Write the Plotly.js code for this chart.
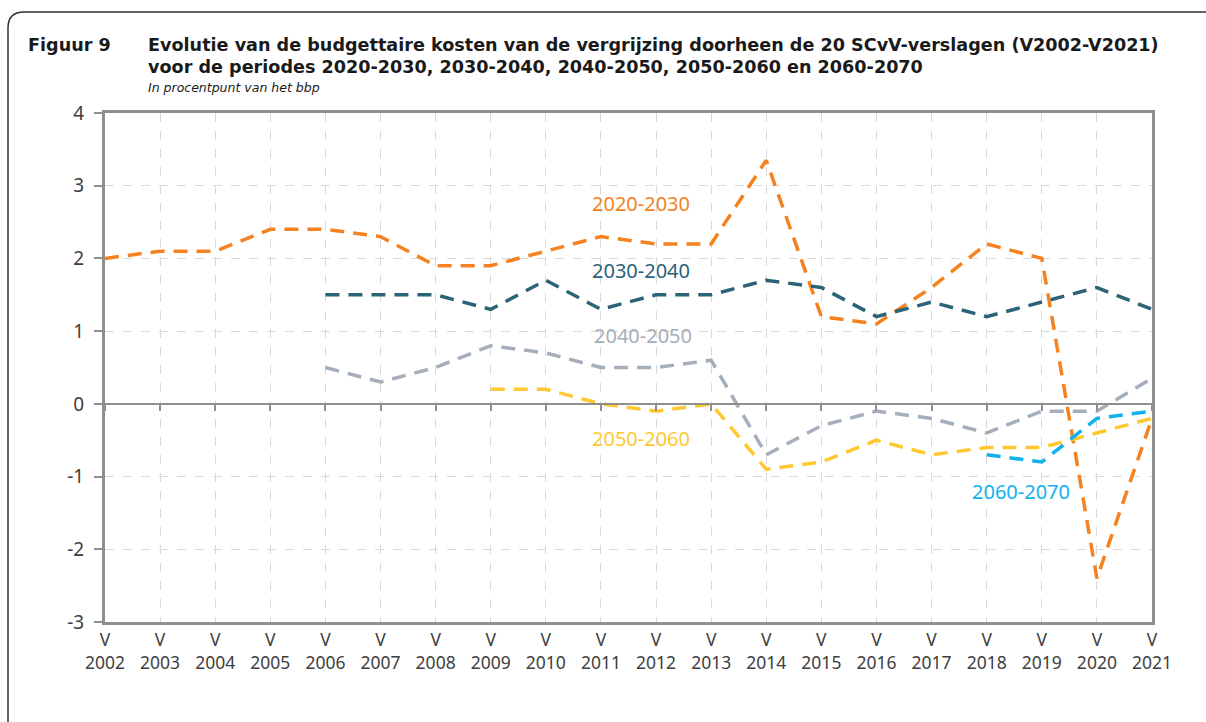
<!DOCTYPE html>
<html>
<head>
<meta charset="utf-8">
<script src="https://cdn.plot.ly/plotly-3.0.1.min.js"></script>
<style>
  html, body { margin: 0; padding: 0; background: #ffffff; }
  #chart { width: 1206px; height: 722px; }
</style>
</head>
<body>
<div id="chart"></div>
<script>
// ---- data ----
const years = [2002, 2003, 2004, 2005, 2006, 2007, 2008, 2009, 2010, 2011,
               2012, 2013, 2014, 2015, 2016, 2017, 2018, 2019, 2020, 2021];
const tickLabels = years.map(y => "V<br>" + y);

const s2020_2030 = [2.0, 2.1, 2.1, 2.4, 2.4, 2.3, 1.9, 1.9, 2.1, 2.3,
                    2.2, 2.2, 3.35, 1.2, 1.1, 1.6, 2.2, 2.0, -2.4, -0.2];
const s2030_2040 = [null, null, null, null, 1.5, 1.5, 1.5, 1.3, 1.7, 1.3,
                    1.5, 1.5, 1.7, 1.6, 1.2, 1.4, 1.2, 1.4, 1.6, 1.3];
const s2040_2050 = [null, null, null, null, 0.5, 0.3, 0.5, 0.8, 0.7, 0.5,
                    0.5, 0.6, -0.7, -0.3, -0.1, -0.2, -0.4, -0.1, -0.1, 0.35];
const s2050_2060 = [null, null, null, null, null, null, null, 0.2, 0.2, 0.0,
                    -0.1, 0.0, -0.9, -0.8, -0.5, -0.7, -0.6, -0.6, -0.4, -0.2];
const s2060_2070 = [null, null, null, null, null, null, null, null, null, null,
                    null, null, null, null, null, null, -0.7, -0.8, -0.2, -0.1];

const seriesNames = ["2020-2030", "2030-2040", "2040-2050", "2050-2060", "2060-2070"];
const seriesColors = ["#F58220", "#2B6377", "#A5AEBB", "#FFC832", "#10B2EE"];
const seriesData = [s2020_2030, s2030_2040, s2040_2050, s2050_2060, s2060_2070];
// label anchor positions (category index, value)
const labelX = [9.73, 9.73, 9.77, 9.73, 16.62];
const labelY = [2.76, 1.83, 0.94, -0.47, -1.21];

const yTicks = [-3, -2, -1, 0, 1, 2, 3, 4];
const yTickText = ["-3", "-2", "-1", "0", "1", "2", "3", "4"];

// ---- layout geometry ----
const W = 1206, H = 722;
const M = {l: 105, r: 54, t: 113, b: 100};
const pw = W - M.l - M.r, ph = H - M.t - M.b;
const px = x => (x - M.l) / pw;
const py = y => (H - M.b - y) / ph;

const FONT = "Noto Sans, DejaVu Sans, sans-serif";
const TFONT = "DejaVu Sans, sans-serif";
const xIdx = years.map((_, i) => i);

const traces = seriesData.map((vals, k) => ({
  type: "scatter",
  mode: "lines",
  x: xIdx,
  y: vals,
  name: seriesNames[k],
  line: {color: seriesColors[k], width: 3.5, dash: "14px,9px"},
  connectgaps: false,
  hoverinfo: "skip",
  showlegend: false
}));

const r = 16;
const fx0 = 8, fy0 = 12;
const framePath = `M ${px(fx0)} ${py(H + 20)} L ${px(fx0)} ${py(fy0 + r)} Q ${px(fx0)} ${py(fy0)} ${px(fx0 + r)} ${py(fy0)} L ${px(W + 20)} ${py(fy0)}`;

const annotations = seriesNames.map((n, k) => ({
  x: labelX[k], y: labelY[k], xref: "x", yref: "y",
  text: n, showarrow: false,
  font: {family: FONT, size: 20, color: seriesColors[k]},
  xanchor: "center", yanchor: "middle"
}));

annotations.push(
  {x: px(26), y: py(45), xref: "paper", yref: "paper", xanchor: "left", yanchor: "middle",
   text: "<b>Figuur 9</b>", showarrow: false, font: {family: TFONT, size: 17.6, color: "#1a1a1a"}},
  {x: px(146), y: py(45), xref: "paper", yref: "paper", xanchor: "left", yanchor: "middle",
   text: "<b>Evolutie van de budgettaire kosten van de vergrijzing doorheen de 20 SCvV-verslagen (V2002-V2021)</b>",
   showarrow: false, font: {family: TFONT, size: 17.6, color: "#1a1a1a"}},
  {x: px(146), y: py(67), xref: "paper", yref: "paper", xanchor: "left", yanchor: "middle",
   text: "<b>voor de periodes 2020-2030, 2030-2040, 2040-2050, 2050-2060 en 2060-2070</b>",
   showarrow: false, font: {family: TFONT, size: 17.6, color: "#1a1a1a"}},
  {x: px(146), y: py(88), xref: "paper", yref: "paper", xanchor: "left", yanchor: "middle",
   text: "<i>In procentpunt van het bbp</i>",
   showarrow: false, font: {family: TFONT, size: 12.5, color: "#1a1a1a"}}
);

const layout = {
  width: W, height: H,
  margin: M,
  paper_bgcolor: "#ffffff",
  plot_bgcolor: "#ffffff",
  font: {family: FONT, color: "#404040"},
  showlegend: false,
  xaxis: {
    type: "linear",
    range: [0, years.length - 1],
    tickvals: xIdx,
    ticktext: tickLabels,
    tickfont: {family: FONT, size: 17.5, color: "#404040"},
    showgrid: true,
    gridcolor: "#d9d9d9",
    griddash: "dash",
    gridwidth: 1,
    showline: true,
    linecolor: "#8f8f8f",
    linewidth: 3,
    mirror: true,
    ticks: "",
    zeroline: false,
    fixedrange: true
  },
  xaxis2: {
    overlaying: "x",
    matches: "x",
    anchor: "free",
    position: 3 / 7,
    tickvals: xIdx,
    showticklabels: false,
    showgrid: false,
    showline: true,
    linecolor: "#8f8f8f",
    linewidth: 2.5,
    ticks: "outside",
    ticklen: 6,
    tickwidth: 2,
    tickcolor: "#8f8f8f",
    zeroline: false
  },
  yaxis: {
    range: [-3, 4],
    tickvals: yTicks,
    ticktext: yTickText,
    tickfont: {family: FONT, size: 19, color: "#404040"},
    showgrid: true,
    gridcolor: "#d9d9d9",
    griddash: "dash",
    gridwidth: 1,
    showline: true,
    linecolor: "#8f8f8f",
    linewidth: 3,
    mirror: true,
    ticks: "outside",
    ticklen: 8,
    tickwidth: 2,
    tickcolor: "#8f8f8f",
    ticklabelstandoff: 6,
    zeroline: false,
    fixedrange: true
  },
  shapes: [
    {type: "path", xref: "paper", yref: "paper", path: framePath,
     line: {color: "#333333", width: 1.5}, fillcolor: "rgba(0,0,0,0)"}
  ],
  annotations: annotations
};

// helper trace to activate xaxis2 (invisible)
traces.push({type: "scatter", mode: "lines", x: [0, years.length - 1], y: [null, null],
             xaxis: "x2", yaxis: "y", showlegend: false, hoverinfo: "skip"});

Plotly.newPlot("chart", traces, layout, {staticPlot: true, displayModeBar: false});
</script>
</body>
</html>
